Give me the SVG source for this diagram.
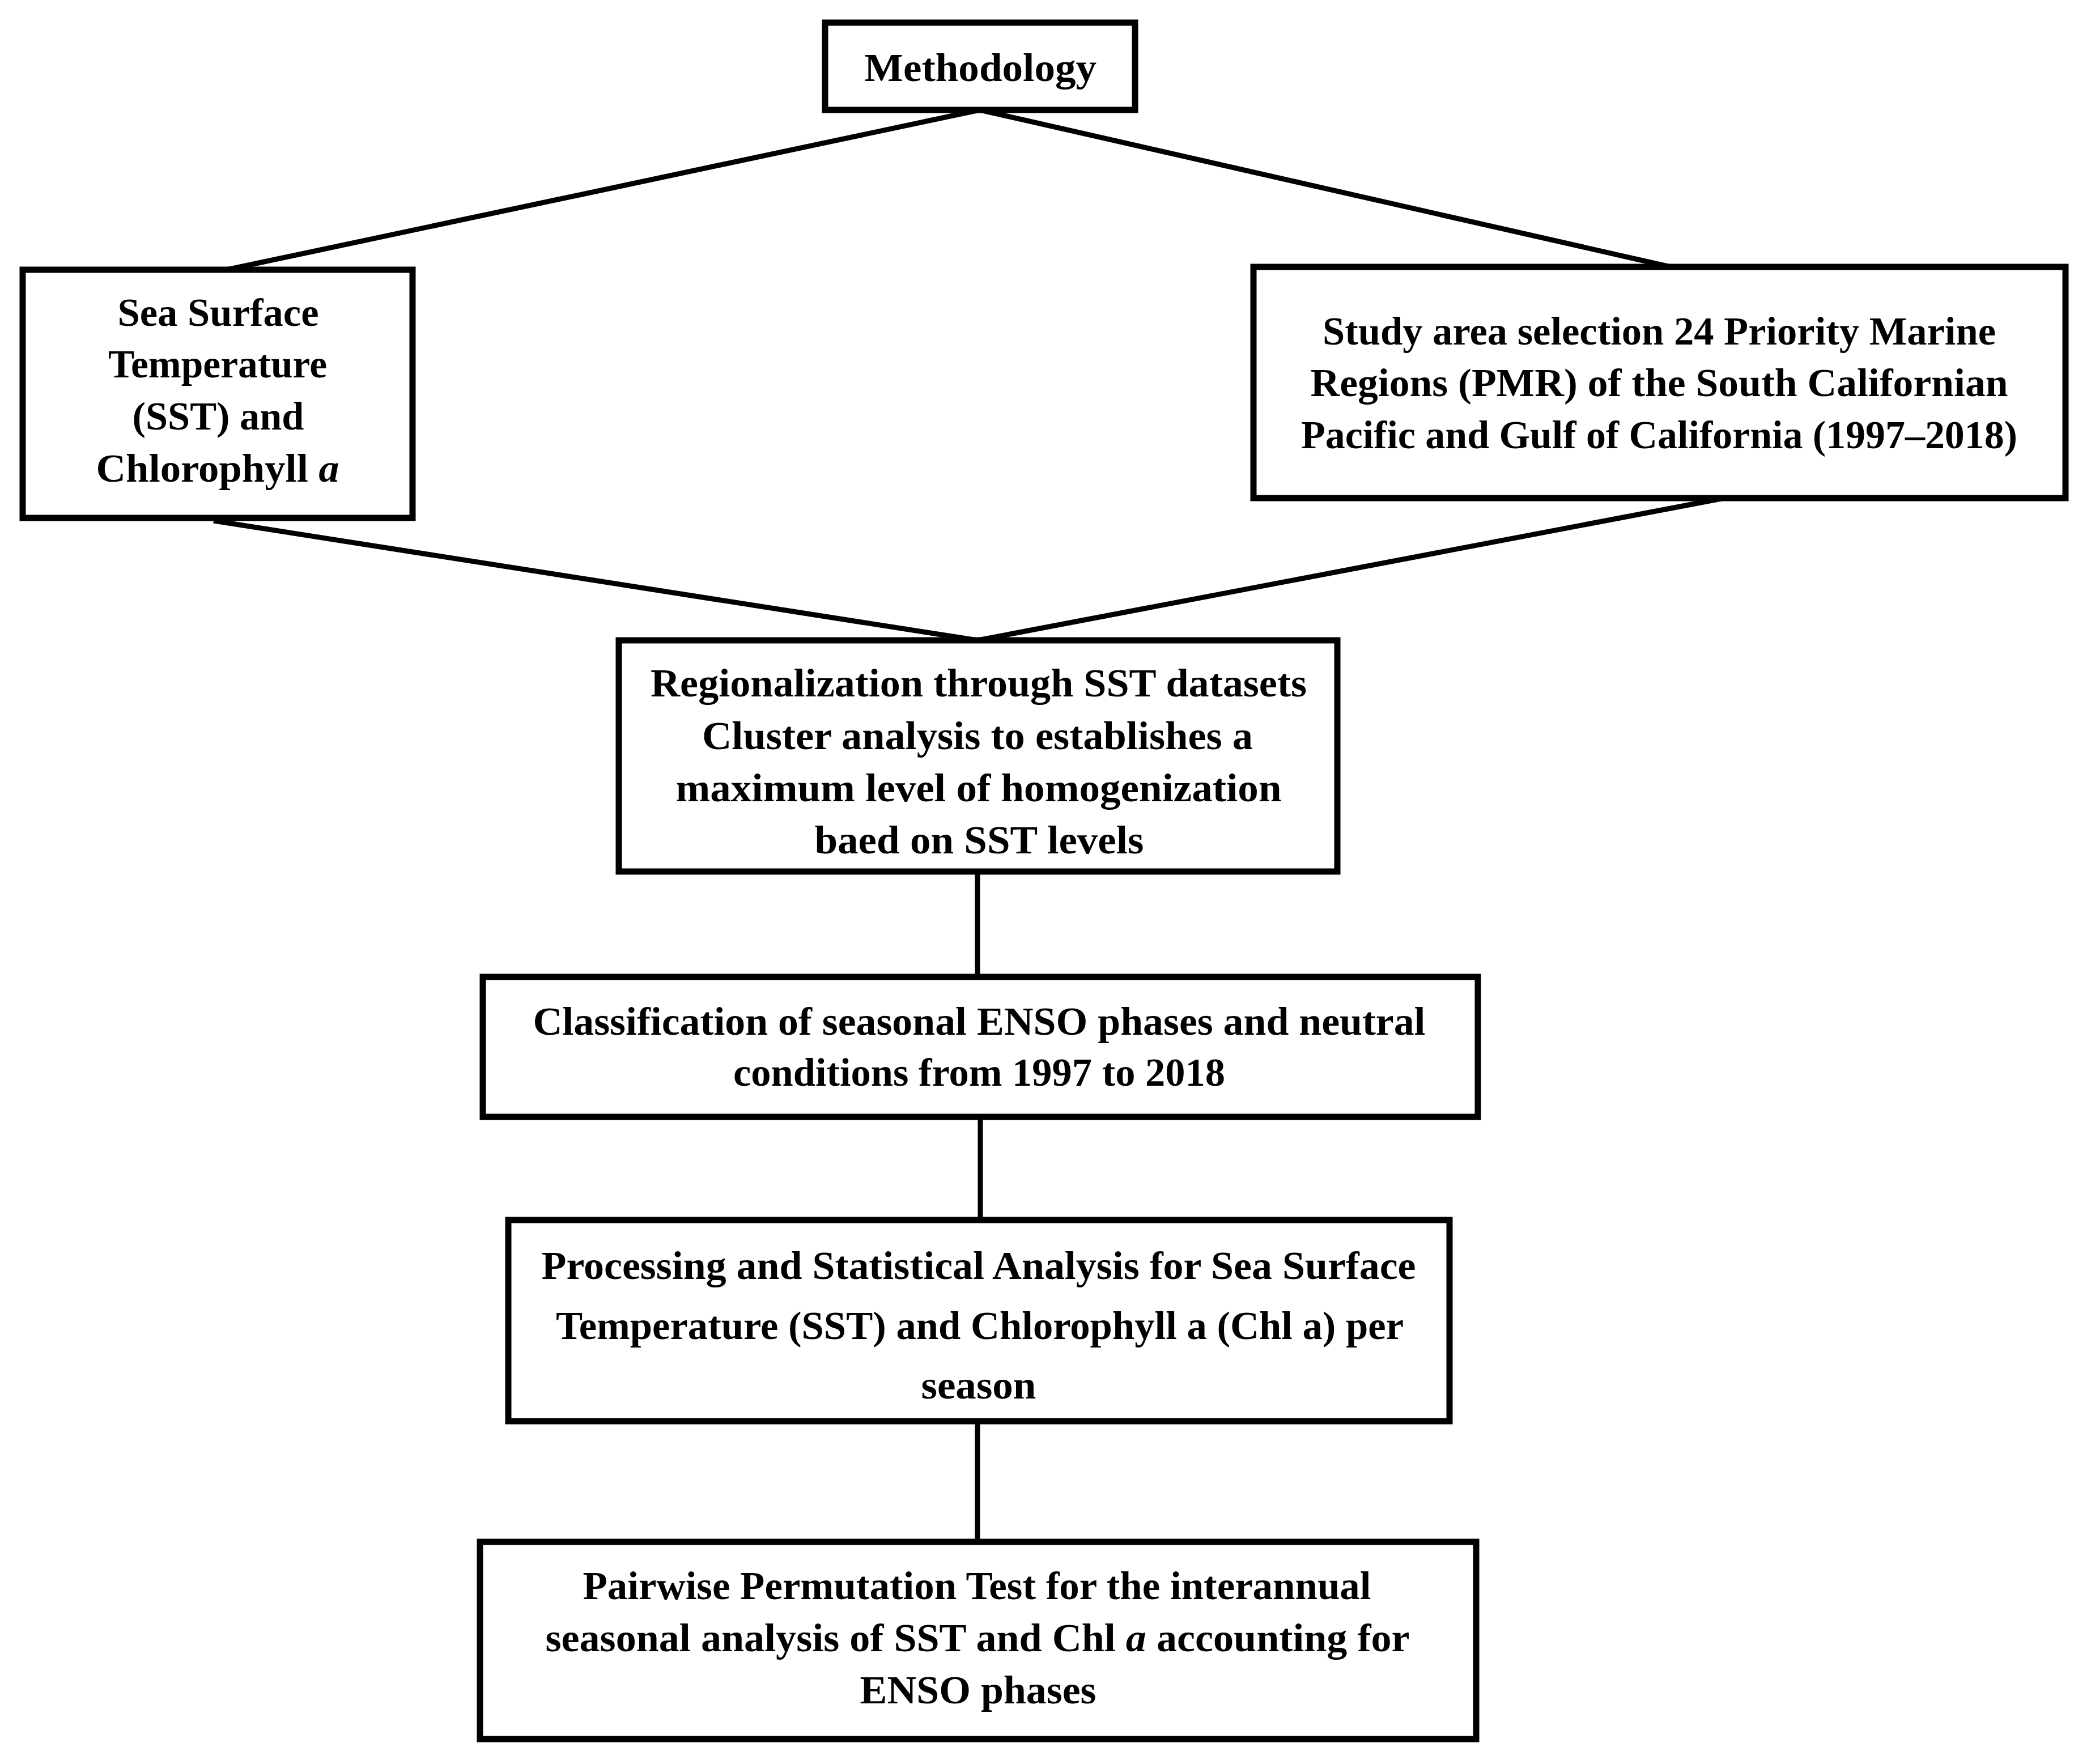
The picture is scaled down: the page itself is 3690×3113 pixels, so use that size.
<svg xmlns="http://www.w3.org/2000/svg" width="3690" height="3113" viewBox="0 0 3690 3113">
<style>
.box{fill:#fff;stroke:#000;stroke-width:11}
.ln{stroke:#000;stroke-width:9;fill:none;stroke-linecap:butt}
text{font-family:"Liberation Serif","DejaVu Serif",serif;font-weight:bold;font-size:70px;fill:#000;text-anchor:middle}
.it{font-style:italic}
</style>
<rect width="3690" height="3113" fill="#fff"/>
<g id="connectors">
<line class="ln" x1="1729" y1="194" x2="400" y2="476"/>
<line class="ln" x1="1729" y1="194" x2="2948" y2="471"/>
<line class="ln" x1="377" y1="919" x2="1725" y2="1130"/>
<line class="ln" x1="3043" y1="879" x2="1725" y2="1130"/>
<line class="ln" x1="1725" y1="1538" x2="1725" y2="1724"/>
<line class="ln" x1="1730" y1="1971" x2="1730" y2="2153"/>
<line class="ln" x1="1725" y1="2508" x2="1725" y2="2721"/>
</g>
<g id="methodology">
<rect class="box" x="1456" y="40" width="547" height="154"/>
<text x="1730" y="143" textLength="410" lengthAdjust="spacingAndGlyphs">Methodology</text>
</g>
<g id="sst-chl">
<rect class="box" x="40" y="476" width="688" height="438"/>
<text x="385" y="575" textLength="355" lengthAdjust="spacingAndGlyphs">Sea Surface</text>
<text x="384" y="666" textLength="386" lengthAdjust="spacingAndGlyphs">Temperature</text>
<text x="385" y="758" textLength="303" lengthAdjust="spacingAndGlyphs">(SST) and</text>
<text x="384" y="850" textLength="429" lengthAdjust="spacingAndGlyphs">Chlorophyll <tspan class="it">a</tspan></text>
</g>
<g id="study-area">
<rect class="box" x="2212" y="471" width="1433" height="408"/>
<text x="2928" y="608" textLength="1188" lengthAdjust="spacingAndGlyphs">Study area selection 24 Priority Marine</text>
<text x="2928" y="699" textLength="1231" lengthAdjust="spacingAndGlyphs">Regions (PMR) of the South Californian</text>
<text x="2928" y="791" textLength="1264" lengthAdjust="spacingAndGlyphs">Pacific and Gulf of California (1997–2018)</text>
</g>
<g id="regionalization">
<rect class="box" x="1092" y="1130" width="1268" height="408"/>
<text x="1727" y="1229" textLength="1158" lengthAdjust="spacingAndGlyphs">Regionalization through SST datasets</text>
<text x="1725" y="1322" textLength="972" lengthAdjust="spacingAndGlyphs">Cluster analysis to establishes a</text>
<text x="1727" y="1414" textLength="1069" lengthAdjust="spacingAndGlyphs">maximum level of homogenization</text>
<text x="1728" y="1506" textLength="581" lengthAdjust="spacingAndGlyphs">baed on SST levels</text>
</g>
<g id="classification">
<rect class="box" x="852" y="1724" width="1756" height="247"/>
<text x="1728" y="1826" textLength="1575" lengthAdjust="spacingAndGlyphs">Classification of seasonal ENSO phases and neutral</text>
<text x="1728" y="1916" textLength="868" lengthAdjust="spacingAndGlyphs">conditions from 1997 to 2018</text>
</g>
<g id="processing">
<rect class="box" x="897" y="2153" width="1661" height="355"/>
<text x="1727" y="2257" textLength="1543" lengthAdjust="spacingAndGlyphs">Processing and Statistical Analysis for Sea Surface</text>
<text x="1729" y="2363" textLength="1496" lengthAdjust="spacingAndGlyphs">Temperature (SST) and Chlorophyll a (Chl a) per</text>
<text x="1727" y="2468" textLength="203" lengthAdjust="spacingAndGlyphs">season</text>
</g>
<g id="pairwise">
<rect class="box" x="847" y="2721" width="1758" height="348"/>
<text x="1724" y="2822" textLength="1391" lengthAdjust="spacingAndGlyphs">Pairwise Permutation Test for the interannual</text>
<text x="1725" y="2914" textLength="1525" lengthAdjust="spacingAndGlyphs">seasonal analysis of SST and Chl <tspan class="it">a</tspan> accounting for</text>
<text x="1726" y="3006" textLength="417" lengthAdjust="spacingAndGlyphs">ENSO phases</text>
</g>
</svg>
